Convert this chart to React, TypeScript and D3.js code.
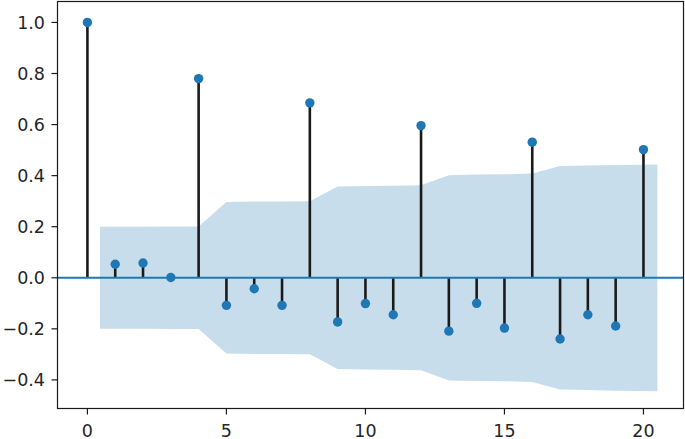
import React from "react";
import { scaleLinear, area } from "d3";

// autocorrelation at lags 0..20
const lags = [0, 1, 2, 3, 4, 5, 6, 7, 8, 9, 10, 11, 12, 13, 14, 15, 16, 17, 18, 19, 20];
const acfValues = [
  1.0, 0.053, 0.058, 0.001, 0.78, -0.108, -0.043, -0.108, 0.685, -0.173, -0.101,
  -0.145, 0.596, -0.209, -0.1, -0.197, 0.531, -0.24, -0.145, -0.189, 0.502,
];
// upper edge of the confidence band for lags 1..20 (band is symmetric about 0)
const bandUpper = [
  0.2, 0.2, 0.201, 0.201, 0.297, 0.299, 0.299, 0.3, 0.357, 0.359, 0.36, 0.362,
  0.402, 0.404, 0.405, 0.408, 0.438, 0.44, 0.442, 0.444,
];
const xTicks = [0, 5, 10, 15, 20];
const yTicks = [-0.4, -0.2, 0.0, 0.2, 0.4, 0.6, 0.8, 1.0];

const W = 685;
const H = 439;
const left = 57.5;
const right = 683.5;
const top = 1.5;
const bottom = 408.5;
const blue = "#1f77b4";
const font = "DejaVu Sans, sans-serif";

export default function App() {
  if (typeof document !== "undefined") document.body.style.margin = "0";

  const x = scaleLinear().domain([-1.076, 21.44]).range([left, right]);
  const y = scaleLinear().domain([-0.512, 1.082]).range([bottom, top]);

  // band x positions: first lag pulled back half a step, last pushed out half a step
  const bandLags = lags.slice(1).map((l, i, arr) =>
    i === 0 ? l - 0.55 : i === arr.length - 1 ? l + 0.5 : l
  );
  const band = area<number>()
    .x((_, i) => x(bandLags[i]))
    .y0((d) => y(-d))
    .y1((d) => y(d));

  const fmt = (v: number) => (v < 0 ? "\u2212" + Math.abs(v).toFixed(1) : v.toFixed(1));

  return (
    <svg width={W} height={H} style={{ display: "block" }}>
      <rect width={W} height={H} fill="white" />
      <path d={band(bandUpper) || ""} fill={blue} fillOpacity={0.25} />
      {lags.map((l, i) => (
        <line
          key={"s" + l}
          x1={x(l)}
          x2={x(l)}
          y1={y(0)}
          y2={y(acfValues[i])}
          stroke="#1a1a1a"
          strokeWidth={2.6}
        />
      ))}
      <line x1={left} x2={right} y1={y(0)} y2={y(0)} stroke={blue} strokeWidth={2} />
      {lags.map((l, i) => (
        <circle key={"m" + l} cx={x(l)} cy={y(acfValues[i])} r={4.7} fill={blue} />
      ))}
      <rect
        x={left}
        y={top}
        width={right - left}
        height={bottom - top}
        fill="none"
        stroke="#1a1a1a"
        strokeWidth={1.2}
      />
      {yTicks.map((t) => (
        <g key={"y" + t}>
          <line x1={left - 6} x2={left} y1={y(t)} y2={y(t)} stroke="#1a1a1a" strokeWidth={1.2} />
          <text
            x={left - 12.5}
            y={y(t)}
            dy="0.36em"
            textAnchor="end"
            fontFamily={font}
            fontSize={17.5}
            fill="#262626"
          >
            {fmt(t)}
          </text>
        </g>
      ))}
      {xTicks.map((t) => (
        <g key={"x" + t}>
          <line x1={x(t)} x2={x(t)} y1={bottom} y2={bottom + 6} stroke="#1a1a1a" strokeWidth={1.2} />
          <text
            x={x(t)}
            y={bottom + 28}
            textAnchor="middle"
            fontFamily={font}
            fontSize={17.5}
            fill="#262626"
          >
            {t}
          </text>
        </g>
      ))}
    </svg>
  );
}
